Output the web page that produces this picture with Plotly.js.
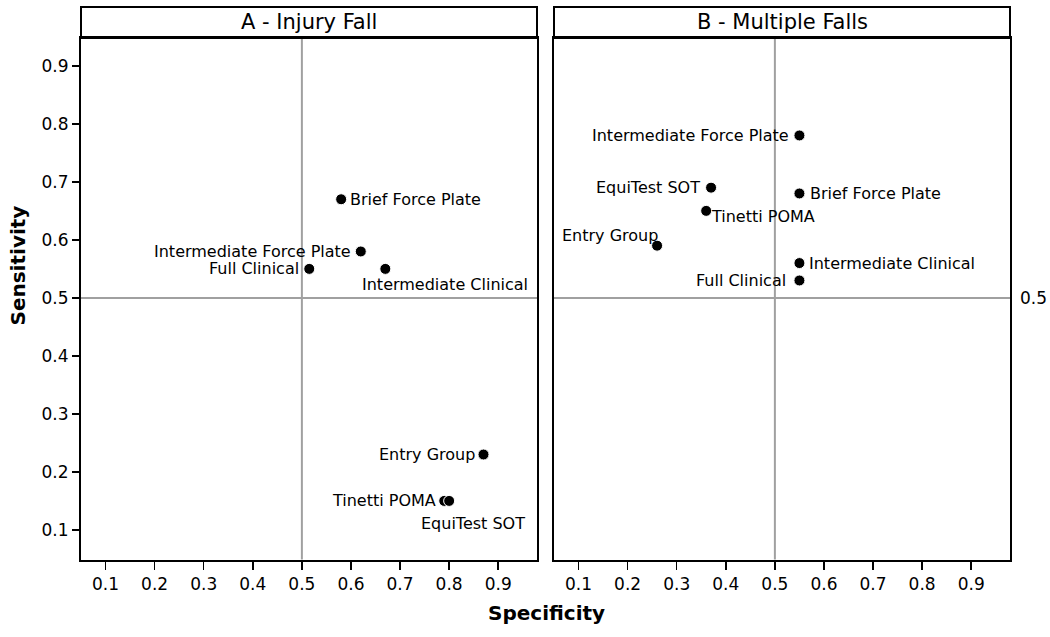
<!DOCTYPE html>
<html>
<head>
<meta charset="utf-8">
<script src="https://cdn.plot.ly/plotly-3.0.1.min.js"></script>
<style>html,body{margin:0;padding:0;background:#fff;}#chart{width:1050px;height:637px;}</style>
</head>
<body>
<div id="chart"></div>
<script>
// ---- data ----
const panelTitles = ["A - Injury Fall", "B - Multiple Falls"];
const namesA = ["Brief Force Plate", "Intermediate Force Plate", "Full Clinical", "Intermediate Clinical", "Entry Group", "Tinetti POMA", "EquiTest SOT"];
const specA  = [0.58, 0.62, 0.515, 0.67, 0.87, 0.79, 0.80];
const sensA  = [0.67, 0.58, 0.55, 0.55, 0.23, 0.15, 0.15];
const namesB = ["Intermediate Force Plate", "EquiTest SOT", "Brief Force Plate", "Tinetti POMA", "Entry Group", "Intermediate Clinical", "Full Clinical"];
const specB  = [0.55, 0.37, 0.55, 0.36, 0.26, 0.55, 0.55];
const sensB  = [0.78, 0.69, 0.68, 0.65, 0.59, 0.56, 0.53];
const tickValues = [0.1, 0.2, 0.3, 0.4, 0.5, 0.6, 0.7, 0.8, 0.9];
const tickLabels = ["0.1", "0.2", "0.3", "0.4", "0.5", "0.6", "0.7", "0.8", "0.9"];
const refValue = 0.5;
const refLabel = "0.5";
const xTitle = "Specificity";
const yTitle = "Sensitivity";

// ---- label placement (anchor, x offset px, y offset px) ----
const placeA = [["left", 7, 0], ["right", -8, 0], ["right", -8, 0], ["left", -25, -16], ["right", -7, 0], ["right", -6, 0], ["left", -30, -23]];
const placeB = [["right", -8, 0], ["right", -9, 0], ["left", 9, 0], ["left", 3, -6], ["right", 3, 10], ["left", 8, 0], ["right", -11, 0]];

const FONT = "DejaVu Sans, Verdana, sans-serif";
const W = 1050, H = 637;
const px = v => v / W, py = v => 1 - v / H;

const domA = [px(81), px(537)];
const domB = [px(554), px(1010)];
const domY = [py(559.5), py(38)];
const headTop = py(7);

const marker = {color: "#000", size: 11, line: {color: "#fff", width: 1}};
const traces = [
  {type: "scatter", mode: "markers", x: specA, y: sensA, xaxis: "x", yaxis: "y", marker: marker, hoverinfo: "skip", cliponaxis: false},
  {type: "scatter", mode: "markers", x: specB, y: sensB, xaxis: "x2", yaxis: "y2", marker: marker, hoverinfo: "skip", cliponaxis: false}
];

function axisX(dom, anchor) {
  return {domain: dom, anchor: anchor, range: [0.05, 0.979], tickmode: "array", tickvals: tickValues, ticktext: tickLabels,
    ticks: "outside", ticklen: 8, tickwidth: 1.5, tickcolor: "#000", showgrid: false, zeroline: false,
    showline: true, mirror: true, linecolor: "#000", linewidth: 2, tickfont: {family: FONT, size: 17, color: "#000"}};
}
function axisY(anchor, labels) {
  return {domain: domY, anchor: anchor, range: [0.049, 0.948], tickmode: "array", tickvals: tickValues, ticktext: tickLabels,
    ticks: labels ? "outside" : "", ticklen: 7, tickwidth: 1.5, tickcolor: "#000", showticklabels: labels,
    showgrid: false, zeroline: false, showline: true, mirror: true, linecolor: "#000", linewidth: 2,
    tickfont: {family: FONT, size: 17, color: "#000"}};
}

const shapes = [];
const annotations = [];
[["x", "y", domA], ["x2", "y2", domB]].forEach(([xa, ya, dom], i) => {
  shapes.push({type: "line", xref: xa, yref: ya + " domain", x0: refValue, x1: refValue, y0: 0, y1: 1, line: {color: "#a0a0a0", width: 2}, layer: "below"});
  shapes.push({type: "line", xref: xa + " domain", yref: ya, x0: 0, x1: 1, y0: refValue, y1: refValue, line: {color: "#a0a0a0", width: 2}, layer: "below"});
  shapes.push({type: "rect", xref: "paper", yref: "paper", x0: dom[0], x1: dom[1], y0: domY[1], y1: headTop, line: {color: "#000", width: 2}, fillcolor: "rgba(0,0,0,0)"});
  annotations.push({xref: "paper", yref: "paper", x: (dom[0] + dom[1]) / 2, y: (domY[1] + headTop) / 2, text: panelTitles[i],
    showarrow: false, xanchor: "center", yanchor: "middle", font: {family: FONT, size: 21, color: "#000"}});
});

function addLabels(names, xs, ys, place, xa, ya) {
  names.forEach((n, i) => {
    annotations.push({xref: xa, yref: ya, x: xs[i], y: ys[i], text: n, showarrow: false,
      xanchor: place[i][0], yanchor: "middle", xshift: place[i][1], yshift: place[i][2],
      font: {family: FONT, size: 16, color: "#000"}});
  });
}
addLabels(namesA, specA, sensA, placeA, "x", "y");
addLabels(namesB, specB, sensB, placeB, "x2", "y2");

annotations.push({xref: "x2 domain", yref: "y2", x: 1, y: refValue, text: refLabel, showarrow: false, xanchor: "left", yanchor: "middle", xshift: 8,
  font: {family: FONT, size: 17, color: "#000"}});
annotations.push({xref: "paper", yref: "paper", x: px(546), y: py(613), text: "<b>" + xTitle + "</b>", showarrow: false, xanchor: "center", yanchor: "middle",
  font: {family: FONT, size: 20, color: "#000"}});
annotations.push({xref: "paper", yref: "paper", x: px(17.5), y: py(266), text: "<b>" + yTitle + "</b>", showarrow: false, textangle: -90, xanchor: "center", yanchor: "middle",
  font: {family: FONT, size: 20, color: "#000"}});

const layout = {
  width: W, height: H, margin: {l: 0, r: 0, t: 0, b: 0}, showlegend: false,
  paper_bgcolor: "#fff", plot_bgcolor: "#fff", font: {family: FONT, color: "#000"},
  xaxis: axisX(domA, "y"), yaxis: axisY("x", true),
  xaxis2: axisX(domB, "y2"), yaxis2: axisY("x2", false),
  shapes: shapes, annotations: annotations
};
Plotly.newPlot("chart", traces, layout, {displayModeBar: false, staticPlot: true});
</script>
</body>
</html>
